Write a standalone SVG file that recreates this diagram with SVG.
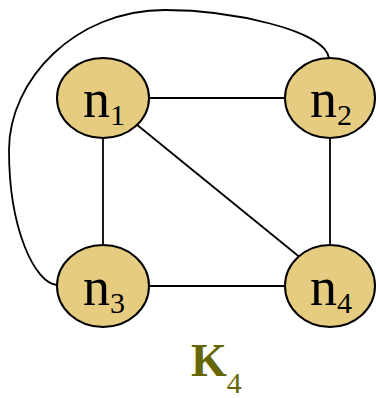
<svg xmlns="http://www.w3.org/2000/svg" width="376" height="398" viewBox="0 0 376 398">
<style>
.e{fill:#e5cc80;stroke:#000;stroke-width:2}
.c{fill:none;stroke:#000;stroke-width:1.8}
.t{font-family:"Liberation Serif","Times New Roman",serif;font-size:54px;fill:#000}
.s{font-size:30px}
.k{font-family:"Liberation Serif","Times New Roman",serif;font-weight:bold;font-size:46px;fill:#666600}
</style>
<rect width="376" height="398" fill="#fff"/>
<g id="edges">
<line class="c" x1="149" y1="98" x2="285" y2="98"/>
<line class="c" x1="103" y1="138" x2="103" y2="247"/>
<line class="c" x1="330" y1="138" x2="330" y2="247"/>
<line class="c" x1="149" y1="286" x2="285" y2="286"/>
<line class="c" x1="136" y1="124" x2="302" y2="259"/>
<path class="c" d="M329,58 C325,30 230,10 165,10 C75,10 9,80 9,150 C9,230 35,283 57,285"/>
</g>
<g id="n1"><ellipse class="e" cx="103" cy="98" rx="46" ry="40"/><text class="t" x="83" y="117">n<tspan class="s" dy="8">1</tspan></text></g>
<g id="n2"><ellipse class="e" cx="330" cy="98" rx="45" ry="40"/><text class="t" x="310" y="117">n<tspan class="s" dy="8">2</tspan></text></g>
<g id="n3"><ellipse class="e" cx="103" cy="286" rx="46" ry="41"/><text class="t" x="83" y="305">n<tspan class="s" dy="8">3</tspan></text></g>
<g id="n4"><ellipse class="e" cx="330" cy="286" rx="45" ry="41"/><text class="t" x="310" y="305">n<tspan class="s" dy="8">4</tspan></text></g>
<g id="label"><text class="k" x="191" y="376">K<tspan font-size="30" dy="17" font-weight="normal">4</tspan></text></g>
</svg>
